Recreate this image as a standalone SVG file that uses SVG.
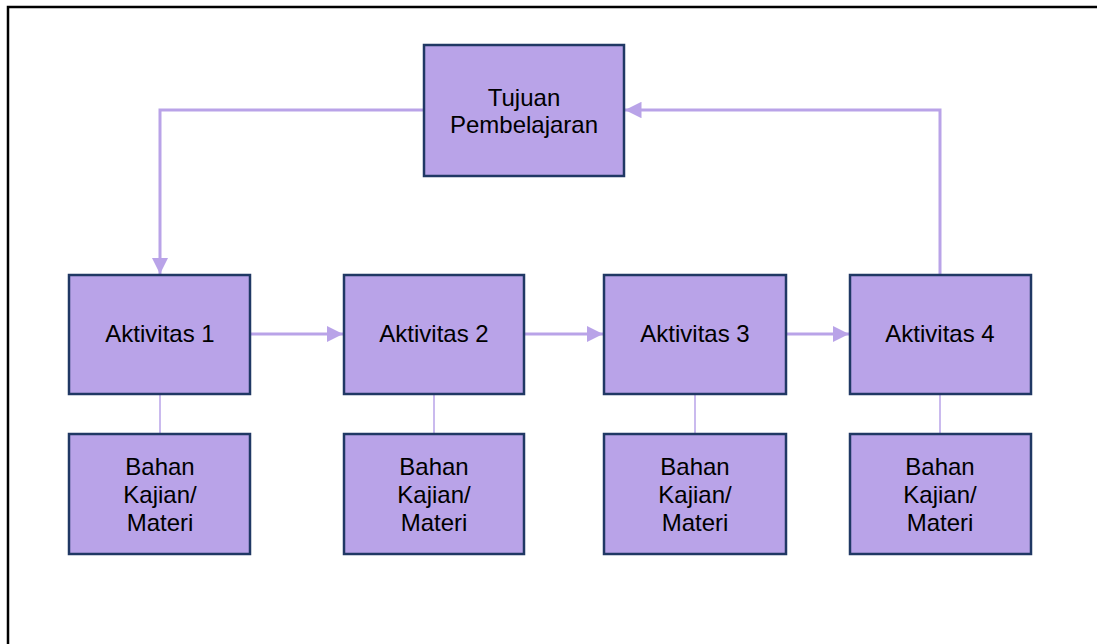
<svg xmlns="http://www.w3.org/2000/svg" width="1097" height="644" viewBox="0 0 1097 644">
  <style>
    .box { fill: #B9A3E8; stroke: #203864; stroke-width: 2.5; }
    .lbl { font-family: "Liberation Sans", Arial, sans-serif; font-size: 24px; fill: #000; text-anchor: middle; }
    .flow { fill: none; stroke: #B9A3E8; stroke-width: 3; }
    .link { fill: none; stroke: #B9A3E8; stroke-width: 1.5; }
  </style>
  <defs>
    <marker id="arrow" viewBox="0 0 10 10" refX="10" refY="5" markerWidth="5.5" markerHeight="5.5" orient="auto" markerUnits="strokeWidth">
      <path d="M0,0 L10,5 L0,10 Z" fill="#B9A3E8"/>
    </marker>
  </defs>

  <rect x="0" y="0" width="1097" height="644" fill="#fff"/>
  <!-- frame: only top and left edges fall inside the page -->
  <path d="M8,1100 L8,7 L1200,7" fill="none" stroke="#000" stroke-width="2.5"/>

  <g id="connectors">
    <path class="flow" d="M424,110 L160,110 L160,274" marker-end="url(#arrow)"/>
    <path class="flow" d="M940,275 L940,110 L625,110" marker-end="url(#arrow)"/>
    <path class="flow" d="M250,334 L343,334" marker-end="url(#arrow)"/>
    <path class="flow" d="M524,334 L603,334" marker-end="url(#arrow)"/>
    <path class="flow" d="M786,334 L849,334" marker-end="url(#arrow)"/>
    <path class="link" d="M160,394 L160,434"/>
    <path class="link" d="M434,394 L434,434"/>
    <path class="link" d="M695,394 L695,434"/>
    <path class="link" d="M940,394 L940,434"/>
  </g>

  <g id="tujuan">
    <rect class="box" x="424" y="45" width="200" height="131"/>
    <text class="lbl" x="524" y="106">Tujuan</text>
    <text class="lbl" x="524" y="133">Pembelajaran</text>
  </g>

  <g id="aktivitas1">
    <rect class="box" x="69" y="275" width="181" height="119"/>
    <text class="lbl" x="160" y="342">Aktivitas 1</text>
  </g>
  <g id="aktivitas2">
    <rect class="box" x="344" y="275" width="180" height="119"/>
    <text class="lbl" x="434" y="342">Aktivitas 2</text>
  </g>
  <g id="aktivitas3">
    <rect class="box" x="604" y="275" width="182" height="119"/>
    <text class="lbl" x="695" y="342">Aktivitas 3</text>
  </g>
  <g id="aktivitas4">
    <rect class="box" x="850" y="275" width="181" height="119"/>
    <text class="lbl" x="940" y="342">Aktivitas 4</text>
  </g>

  <g id="bahan1">
    <rect class="box" x="69" y="434" width="181" height="120"/>
    <text class="lbl" x="160" y="475">Bahan</text>
    <text class="lbl" x="160" y="503">Kajian/</text>
    <text class="lbl" x="160" y="531">Materi</text>
  </g>
  <g id="bahan2">
    <rect class="box" x="344" y="434" width="180" height="120"/>
    <text class="lbl" x="434" y="475">Bahan</text>
    <text class="lbl" x="434" y="503">Kajian/</text>
    <text class="lbl" x="434" y="531">Materi</text>
  </g>
  <g id="bahan3">
    <rect class="box" x="604" y="434" width="182" height="120"/>
    <text class="lbl" x="695" y="475">Bahan</text>
    <text class="lbl" x="695" y="503">Kajian/</text>
    <text class="lbl" x="695" y="531">Materi</text>
  </g>
  <g id="bahan4">
    <rect class="box" x="850" y="434" width="181" height="120"/>
    <text class="lbl" x="940" y="475">Bahan</text>
    <text class="lbl" x="940" y="503">Kajian/</text>
    <text class="lbl" x="940" y="531">Materi</text>
  </g>
</svg>
